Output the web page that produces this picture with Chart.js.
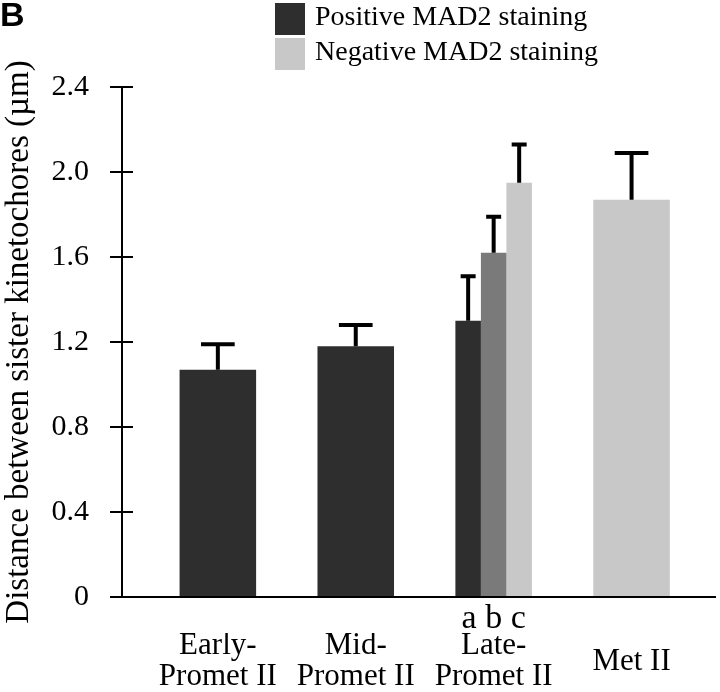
<!DOCTYPE html>
<html>
<head>
    <title>Distance between sister kinetochores</title>
    <script src="https://cdn.jsdelivr.net/npm/chart.js"></script>
    <style>
        body { margin: 0; background: #fff; }
    </style>
</head>
<body>
    <canvas id="myChart" width="720" height="692"></canvas>
    <script>
        // stages along the x axis (array index = position on the axis)
        const stages = [['Early-', 'Promet II'], ['Mid-', 'Promet II'], ['Late-', 'Promet II'], ['Met II']];
        const subLabels = ['', '', 'a b c', ''];
        const yTicks = [0, 0.4, 0.8, 1.2, 1.6, 2.0, 2.4];

        // mean distance in µm and the (upper) error, null where a stage has no such bar
        const positive = [1.07, 1.18, 1.30, null];
        const positiveErr = [0.12, 0.10, 0.21, null];
        const intermediate = [null, null, 1.62, null];
        const intermediateErr = [null, null, 0.17, null];
        const negative = [null, null, 1.95, 1.87];
        const negativeErr = [null, null, 0.18, 0.22];

        const toPoints = values => values.map((v, i) => ({ x: i, y: v }));

        // upward error bars, T shaped
        const errorBars = {
            id: 'errorBars',
            afterDatasetsDraw(chart) {
                const { ctx, scales: { y } } = chart;
                ctx.save();
                ctx.strokeStyle = '#000';
                ctx.lineWidth = 4;
                chart.data.datasets.forEach((ds, di) => {
                    const meta = chart.getDatasetMeta(di);
                    meta.data.forEach((bar, i) => {
                        const v = ds.data[i].y;
                        const e = ds.errors[i];
                        if (v == null || e == null) return;
                        const top = y.getPixelForValue(v + e);
                        const half = Math.max(7.5, bar.width * 0.22);
                        ctx.beginPath();
                        ctx.moveTo(bar.x, bar.y);
                        ctx.lineTo(bar.x, top);
                        ctx.moveTo(bar.x - half, top);
                        ctx.lineTo(bar.x + half, top);
                        ctx.stroke();
                    });
                });
                ctx.restore();
            }
        };

        // tick marks of the y axis cross the axis line
        const innerTicks = {
            id: 'innerTicks',
            afterDraw(chart) {
                const { ctx, chartArea, scales: { y } } = chart;
                ctx.save();
                ctx.strokeStyle = '#000';
                ctx.lineWidth = 2;
                y.ticks.forEach(t => {
                    if (t.value === 0) return;
                    const py = Math.round(y.getPixelForValue(t.value));
                    ctx.beginPath();
                    ctx.moveTo(chartArea.left, py);
                    ctx.lineTo(chartArea.left + 11, py);
                    ctx.stroke();
                });
                ctx.restore();
            }
        };

        // two-row legend above the plot
        const stainLegend = {
            id: 'stainLegend',
            afterDraw(chart, args, opts) {
                const { ctx } = chart;
                const items = chart.data.datasets.filter(ds => !ds.hideInLegend);
                ctx.save();
                ctx.font = opts.size + "px 'Liberation Serif', serif";
                ctx.textBaseline = 'alphabetic';
                ctx.textAlign = 'left';
                items.forEach((ds, i) => {
                    const top = opts.top + i * opts.rowHeight;
                    ctx.fillStyle = ds.backgroundColor;
                    ctx.fillRect(opts.left, top, opts.boxWidth, opts.boxHeight);
                    ctx.fillStyle = '#000';
                    ctx.fillText(ds.label, opts.left + opts.boxWidth + opts.gap, top + opts.baseline);
                });
                ctx.restore();
            }
        };

        Chart.defaults.font.family = "'Liberation Serif', 'Times New Roman', serif";
        Chart.defaults.color = '#000';

        const xMin = -0.695;
        const xMax = 3.605;

        const ctx = document.getElementById('myChart').getContext('2d');
        const myChart = new Chart(ctx, {
            type: 'bar',
            data: {
                datasets: [{
                    label: 'Positive MAD2 staining',
                    data: toPoints(positive),
                    errors: positiveErr,
                    backgroundColor: '#2e2e2e'
                }, {
                    label: 'Late-Promet II b',
                    data: toPoints(intermediate),
                    errors: intermediateErr,
                    backgroundColor: '#7a7a7a',
                    hideInLegend: true
                }, {
                    label: 'Negative MAD2 staining',
                    data: toPoints(negative),
                    errors: negativeErr,
                    backgroundColor: '#c8c8c8'
                }]
            },
            options: {
                responsive: false,
                animation: false,
                layout: { padding: { right: 5 } },
                datasets: {
                    bar: {
                        skipNull: true,
                        categoryPercentage: 0.555,
                        barPercentage: 1.0
                    }
                },
                plugins: {
                    legend: { display: false },
                    tooltip: { enabled: false },
                    title: {
                        display: true,
                        text: 'B',
                        align: 'start',
                        font: { family: "'Liberation Sans', Arial, sans-serif", weight: 'bold', size: 34, lineHeight: 1 },
                        padding: { top: 0, bottom: 53 }
                    },
                    stainLegend: {
                        left: 275, top: 3, boxWidth: 30, boxHeight: 32,
                        rowHeight: 35, gap: 10, baseline: 22, size: 28
                    }
                },
                scales: {
                    x: {
                        type: 'linear',
                        position: 'bottom',
                        offset: false,
                        min: xMin,
                        max: xMax,
                        weight: 2,
                        afterBuildTicks: axis => { axis.ticks = stages.map((s, i) => ({ value: i })); },
                        afterFit: axis => { axis.height = 59; },
                        grid: { display: false, drawTicks: false },
                        border: { display: false },
                        ticks: {
                            autoSkip: false,
                            maxRotation: 0,
                            padding: 13,
                            crossAlign: 'center',
                            font: { size: 31, lineHeight: 1.0 },
                            callback: v => stages[v]
                        }
                    },
                    x2: {
                        type: 'linear',
                        position: 'bottom',
                        offset: false,
                        min: xMin,
                        max: xMax,
                        weight: 1,
                        afterBuildTicks: axis => { axis.ticks = [{ value: subLabels.indexOf('a b c') }]; },
                        afterFit: axis => { axis.height = 36; },
                        grid: { display: false, drawTicks: false },
                        border: { display: true, color: '#000', width: 2 },
                        ticks: {
                            autoSkip: false,
                            maxRotation: 0,
                            padding: 5,
                            font: { size: 34, lineHeight: 1 },
                            callback: v => subLabels[v]
                        }
                    },
                    y: {
                        min: 0,
                        max: 2.4,
                        afterBuildTicks: axis => { axis.ticks = yTicks.map(v => ({ value: v })); },
                        afterFit: axis => { axis.width = 122; },
                        border: { color: '#000', width: 2 },
                        grid: { drawOnChartArea: false, color: '#000', lineWidth: 2, tickLength: 12 },
                        ticks: {
                            padding: 21,
                            font: { size: 30 },
                            callback: v => v === 0 ? '0' : v.toFixed(1)
                        },
                        title: {
                            display: true,
                            text: 'Distance between sister kinetochores (µm)',
                            font: { size: 33, lineHeight: 1.2 },
                            padding: 0
                        }
                    }
                }
            },
            plugins: [errorBars, innerTicks, stainLegend]
        });
    </script>
</body>
</html>
